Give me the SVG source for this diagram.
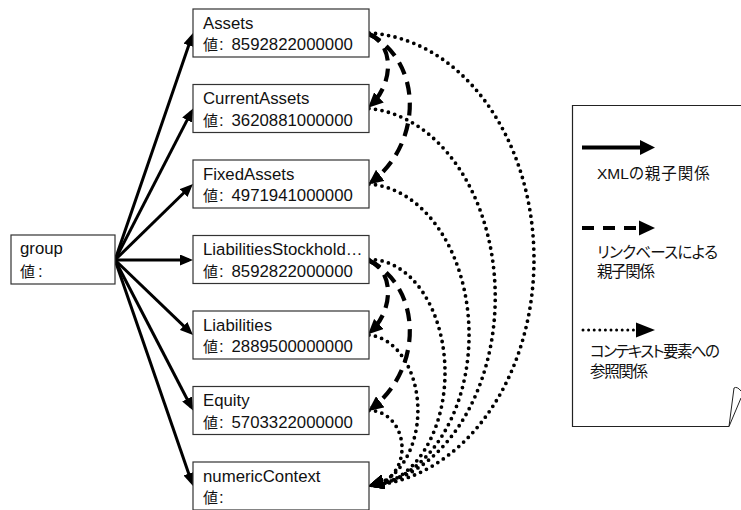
<svg xmlns="http://www.w3.org/2000/svg" width="741" height="510" viewBox="0 0 741 510">
  <style>
    .box { fill: #fff; stroke: #333; stroke-width: 1.2; }
    .lbl { font-family: "Liberation Sans", "Noto Sans CJK JP", sans-serif; font-size: 16.8px; fill: #111; }
    .kan { font-family: "Noto Sans CJK JP", sans-serif; font-size: 15px; }
    .leg { font-family: "Liberation Sans", "Noto Sans CJK JP", sans-serif; font-size: 15.5px; fill: #111; font-feature-settings: "palt" 1; }
    .solid { fill: none; stroke: #000; stroke-width: 3; }
    .dash { fill: none; stroke: #000; stroke-width: 4.2; stroke-dasharray: 13 8; }
    .dot { fill: none; stroke: #000; stroke-width: 3.8; stroke-linecap: round; stroke-dasharray: 0 6.6; }
  </style>
  <defs>
    <marker id="headS" viewBox="0 0 13 11" refX="9" refY="5.5" markerWidth="13" markerHeight="11" markerUnits="userSpaceOnUse" orient="auto">
      <path d="M0,0 L13,5.5 L0,11 z" fill="#000"/>
    </marker>
    <marker id="headD" viewBox="0 0 15 14" refX="11" refY="7" markerWidth="15" markerHeight="14" markerUnits="userSpaceOnUse" orient="auto">
      <path d="M0,0 L15,7 L0,14 z" fill="#000"/>
    </marker>
    <marker id="headC" viewBox="0 0 16 15" refX="13" refY="7.5" markerWidth="16" markerHeight="15" markerUnits="userSpaceOnUse" orient="164">
      <path d="M0,0 L16,7.5 L0,15 z" fill="#000"/>
    </marker>
  </defs>

  <!-- connectors -->
  <g id="connectors">
    <!-- XML parent/child -->
    <path class="solid" marker-end="url(#headS)" d="M115,260 L191.7,36.8"/>
    <path class="solid" marker-end="url(#headS)" d="M115,260 L191.2,112.1"/>
    <path class="solid" marker-end="url(#headS)" d="M115,260 L190.1,186.8"/>
    <path class="solid" marker-end="url(#headS)" d="M115,260 L189,260"/>
    <path class="solid" marker-end="url(#headS)" d="M115,260 L190.1,332.2"/>
    <path class="solid" marker-end="url(#headS)" d="M115,260 L191.2,407"/>
    <path class="solid" marker-end="url(#headS)" d="M115,260 L191.7,482.2"/>
    <!-- linkbase parent/child -->
    <path class="dash" marker-end="url(#headD)" d="M369,34 C395,45 393,84 371,105"/>
    <path class="dash" marker-end="url(#headD)" d="M369,34 C422,60 424,142 371.5,182"/>
    <path class="dash" marker-end="url(#headD)" d="M369,260.5 C395,271.5 393,310.5 371,331.5"/>
    <path class="dash" marker-end="url(#headD)" d="M369,260.5 C422,286.5 424,368.5 371.5,408.5"/>
    <!-- context references -->
    <path class="dot" marker-end="url(#headC)" d="M369,33 A172,226.5 0 0 1 371,485.5"/>
    <path class="dot" marker-end="url(#headC)" d="M369,108.5 A135,189 0 0 1 371,485.5"/>
    <path class="dot" marker-end="url(#headC)" d="M369,184 A105,151 0 0 1 371,485.5"/>
    <path class="dot" marker-end="url(#headC)" d="M369,259.5 A75,113 0 0 1 371,485.5"/>
    <path class="dot" marker-end="url(#headC)" d="M369,335 A52,75.5 0 0 1 371,485.5"/>
    <path class="dot" marker-end="url(#headC)" d="M369,410.5 A32,37.5 0 0 1 371,485.5"/>
  </g>

  <!-- nodes -->
  <g id="group">
    <rect class="box" x="11" y="235" width="104" height="49"/>
    <text class="lbl" x="20" y="253.5">group</text>
    <text class="lbl" y="276.5"><tspan class="kan" x="20">値</tspan><tspan x="38">:</tspan></text>
  </g>
  <g id="Assets">
    <rect class="box" x="193" y="9" width="176" height="48"/>
    <text class="lbl" x="203" y="28.5">Assets</text>
    <text class="lbl" y="50"><tspan class="kan" x="203">値</tspan><tspan x="219">:</tspan><tspan x="231.5">8592822000000</tspan></text>
  </g>
  <g id="CurrentAssets">
    <rect class="box" x="193" y="84.5" width="176" height="48"/>
    <text class="lbl" x="203" y="104">CurrentAssets</text>
    <text class="lbl" y="125.5"><tspan class="kan" x="203">値</tspan><tspan x="219">:</tspan><tspan x="231.5">3620881000000</tspan></text>
  </g>
  <g id="FixedAssets">
    <rect class="box" x="193" y="160" width="176" height="48"/>
    <text class="lbl" x="203" y="179.5">FixedAssets</text>
    <text class="lbl" y="201"><tspan class="kan" x="203">値</tspan><tspan x="219">:</tspan><tspan x="231.5">4971941000000</tspan></text>
  </g>
  <g id="LiabilitiesStockholdersEquity">
    <rect class="box" x="193" y="235.5" width="176" height="48"/>
    <text class="lbl" x="203" y="255">LiabilitiesStockhold…</text>
    <text class="lbl" y="276.5"><tspan class="kan" x="203">値</tspan><tspan x="219">:</tspan><tspan x="231.5">8592822000000</tspan></text>
  </g>
  <g id="Liabilities">
    <rect class="box" x="193" y="311" width="176" height="48"/>
    <text class="lbl" x="203" y="330.5">Liabilities</text>
    <text class="lbl" y="352"><tspan class="kan" x="203">値</tspan><tspan x="219">:</tspan><tspan x="231.5">2889500000000</tspan></text>
  </g>
  <g id="Equity">
    <rect class="box" x="193" y="386.5" width="176" height="48"/>
    <text class="lbl" x="203" y="406">Equity</text>
    <text class="lbl" y="427.5"><tspan class="kan" x="203">値</tspan><tspan x="219">:</tspan><tspan x="231.5">5703322000000</tspan></text>
  </g>
  <g id="numericContext">
    <rect class="box" x="193" y="462" width="176" height="48"/>
    <text class="lbl" x="203" y="481.5">numericContext</text>
    <text class="lbl" y="503"><tspan class="kan" x="203">値</tspan><tspan x="219">:</tspan></text>
  </g>

  <!-- legend -->
  <g id="legend">
    <path d="M745,105.5 H572.5 V426.5 H729" fill="none" stroke="#222" stroke-width="1.2"/>
    <path d="M729,426.5 L741,398 M729,426.5 L734,388 Q737,386 741,391" fill="none" stroke="#222" stroke-width="1"/>
    <line x1="582" y1="147.5" x2="641" y2="147.5" stroke="#000" stroke-width="4"/>
    <polygon points="640,140 655,147.5 640,155" fill="#000"/>
    <text class="leg" x="597" y="179">XML<tspan letter-spacing="1">の親子関係</tspan></text>
    <line x1="582" y1="228" x2="640" y2="228" stroke="#000" stroke-width="4" stroke-dasharray="12 9"/>
    <polygon points="639,220.5 655,228 639,235.5" fill="#000"/>
    <text class="leg" x="597" y="257.5" textLength="121">リンクベースによる</text>
    <text class="leg" x="597" y="277" textLength="58">親子関係</text>
    <line x1="583" y1="330" x2="634" y2="330" stroke="#000" stroke-width="3" stroke-linecap="round" stroke-dasharray="0 5.6"/>
    <polygon points="636,322.5 655,330 636,337.5" fill="#000"/>
    <text class="leg" x="590" y="357" textLength="130">コンテキスト要素への</text>
    <text class="leg" x="590" y="377" textLength="58">参照関係</text>
  </g>
</svg>
